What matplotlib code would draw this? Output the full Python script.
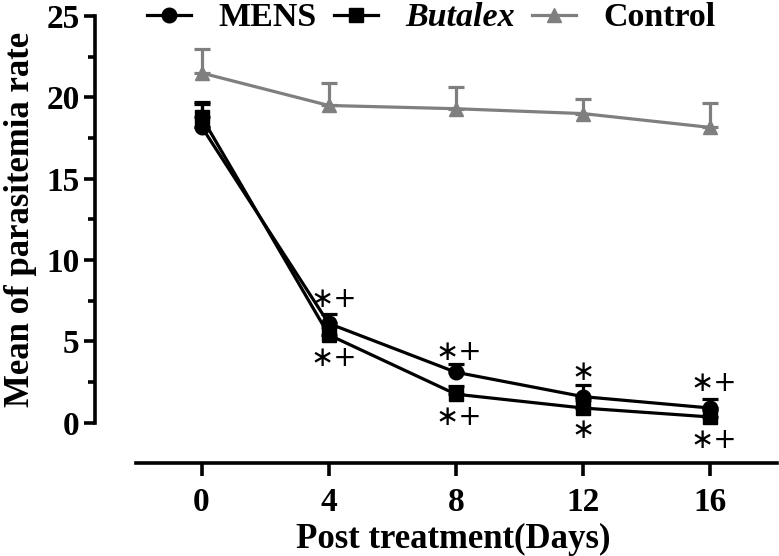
import matplotlib
matplotlib.use('Agg')
import matplotlib.pyplot as plt
import numpy as np

plt.rc('font', family='Liberation Serif', weight='bold', size=24)

# data
days = [0, 4, 8, 12, 16]
mens = [18.2, 6.1, 3.1, 1.6, 0.9]
mens_err = [1.4, 0.6, 0.5, 0.7, 0.55]
butalex = [18.8, 5.4, 1.75, 0.9, 0.35]
butalex_err = [0.9, 0.5, 0.5, 0.5, 0.4]
control = [21.5, 19.5, 19.3, 19.0, 18.15]
control_err = [1.5, 1.4, 1.35, 0.9, 1.5]

# significance marks: (day, y, text)
marks_x = [4.15, 4.15, 8.1, 8.1, 12.0, 12.0, 16.1, 16.1]
marks_y = [7.6, 4.0, 4.35, 0.35, 3.1, -0.45, 2.45, -1.05]
marks_txt = ['\u2217+', '\u2217+', '\u2217+', '\u2217+', '\u2217', '\u2217', '\u2217+', '\u2217+']

W, H = 779, 556
fig = plt.figure(figsize=(W / 100, H / 100), dpi=100)
ax = fig.add_axes([95 / W, 1 - 463 / H, (777 - 95) / W, (463 - 16) / H])

lw = 2.3
common = dict(linewidth=lw, elinewidth=lw, capthick=lw, capsize=6, markersize=10.5)

ctl = ax.errorbar(days, control, yerr=[np.zeros(5), control_err], color='#7f7f7f',
                  marker='^', zorder=3, **common)
but = ax.errorbar(days, butalex, yerr=[np.zeros(5), butalex_err], color='black',
                  marker='s', zorder=4, **common)
men = ax.errorbar(days, mens, yerr=[np.zeros(5), mens_err], color='black',
                  marker='o', zorder=5, **common)

for x, y, t in zip(marks_x, marks_y, marks_txt):
    ax.text(x, y, t, ha='center', va='center', fontsize=20,
            fontweight='normal', family='DejaVu Sans')

ax.set_xlim(-3.35, 18.1)
ax.set_ylim(-2.48, 25)
ax.spines['top'].set_visible(False)
ax.spines['right'].set_visible(False)
ax.spines['left'].set_bounds(0, 25)
ax.spines['bottom'].set_bounds(-2.05, 18.1)
for s in ('left', 'bottom'):
    ax.spines[s].set_linewidth(2.6)

ax.set_xticks(days)
ax.set_yticks([0, 5, 10, 15, 20, 25])
ax.set_yticks(np.arange(0, 25, 2.5), minor=True)
ax.tick_params(axis='y', which='major', length=8, width=2.6, pad=3, labelsize=24)
ax.tick_params(axis='y', which='minor', length=5, width=2.6)
ax.tick_params(axis='x', which='major', length=9, width=2.6, pad=8, labelsize=24)

ax.set_xlabel('Post treatment(Days)', fontsize=25, fontweight='bold')
ax.xaxis.set_label_coords(0.526, -0.135)
ax.set_ylabel('Mean of parasitemia rate', fontsize=25, fontweight='bold')
ax.yaxis.set_label_coords(-0.085, 0.545)

leg = fig.legend([men[0], but[0], ctl[0]], ['MENS', 'Butalex', 'Control'],
                 loc='center left', bbox_to_anchor=(147 / W, 1 - 18 / H),
                 ncol=3, frameon=False, borderpad=0, borderaxespad=0,
                 handlelength=1.3, handletextpad=0.8, columnspacing=0.5,
                 fontsize=24.5)
leg.get_texts()[1].set_style('italic')

fig.savefig('out.png', dpi=100)
